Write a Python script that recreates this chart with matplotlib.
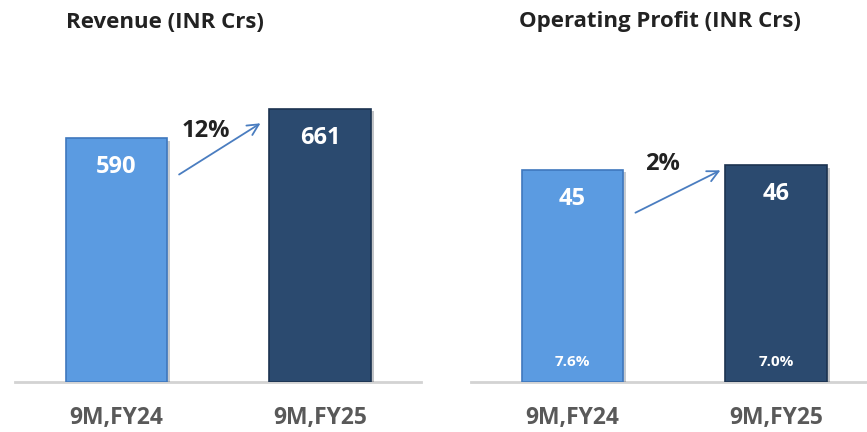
import matplotlib.pyplot as plt
import matplotlib.patheffects as pe

plt.rcParams["font.family"] = ["Open Sans", "DejaVu Sans"]

periodos = ["9M,FY24", "9M,FY25"]
ingresos = [590, 661]
beneficio_op = [45, 46]
margen_op = ["7.6%", "7.0%"]
crec_ingresos = "12%"
crec_beneficio = "2%"

COLORES = ["#5B9BE1", "#2B4A6F"]
BORDES = ["#3F78BD", "#1C3350"]
W_PX, H_PX = 867, 432


def panel(fig, x0, ancho, titulo, x_titulo, valores, ymax, etiqueta_crec, flecha, pos_crec,
          margenes=None):
    ax = fig.add_axes([x0 / W_PX, 50 / H_PX, ancho / W_PX, 321 / H_PX])
    x = list(range(len(valores)))
    barras = ax.bar(x, valores, width=0.5, color=COLORES, edgecolor=BORDES, linewidth=1.2,
                    zorder=3)
    for b in barras:
        b.set_path_effects([pe.SimplePatchShadow(offset=(2, -2), alpha=0.25), pe.Normal()])

    for xi, v in zip(x, valores):
        ax.annotate(f"{v}", (xi, v), xytext=(0, -29), textcoords="offset pixels",
                    ha="center", va="center", color="white", fontsize=17,
                    fontweight="bold", zorder=5)
    if margenes:
        for xi, m in zip(x, margenes):
            ax.annotate(m, (xi, 0), xytext=(0, 20), textcoords="offset pixels",
                        ha="center", va="center", color="white", fontsize=11,
                        fontweight="bold", zorder=5)

    ax.annotate("", xy=flecha[1], xytext=flecha[0],
                arrowprops=dict(arrowstyle="->,head_length=0.8,head_width=0.4",
                                color="#4A7DC0", lw=1.3))
    ax.text(pos_crec[0], pos_crec[1], etiqueta_crec, ha="center", va="center",
            fontsize=17, fontweight="bold", color="#222222")

    xmin = -101.5 / 203.5
    ax.set_xlim(xmin, xmin + ancho / 203.5)
    ax.set_ylim(0, ymax)
    ax.set_xticks(x)
    ax.set_xticklabels(periodos, fontsize=16.5, fontweight="bold", color="#595959")
    ax.tick_params(axis="x", length=0, pad=17)
    ax.set_yticks([])
    for lado in ["top", "right", "left"]:
        ax.spines[lado].set_visible(False)
    ax.spines["bottom"].set_color("#D3D3D3")
    ax.spines["bottom"].set_linewidth(2)
    ax.spines["bottom"].set_zorder(2)

    fig.text(x_titulo / W_PX, 1 - 22 / H_PX, titulo, ha="center", va="center",
             fontsize=16, fontweight="bold", color="#222222")
    return ax


fig = plt.figure(figsize=(W_PX / 100, H_PX / 100), dpi=100)

panel(fig, 15, 406, "Revenue (INR Crs)", 165, ingresos, 776, crec_ingresos,
      ((0.296, 498), (0.719, 629)), (0.438, 607))
panel(fig, 471, 396, "Operating Profit (INR Crs)", 660, beneficio_op, 68, crec_beneficio,
      ((0.297, 35.6), (0.739, 45.1)), (0.444, 46.2), margen_op)

fig.savefig("out.png", dpi=100)
